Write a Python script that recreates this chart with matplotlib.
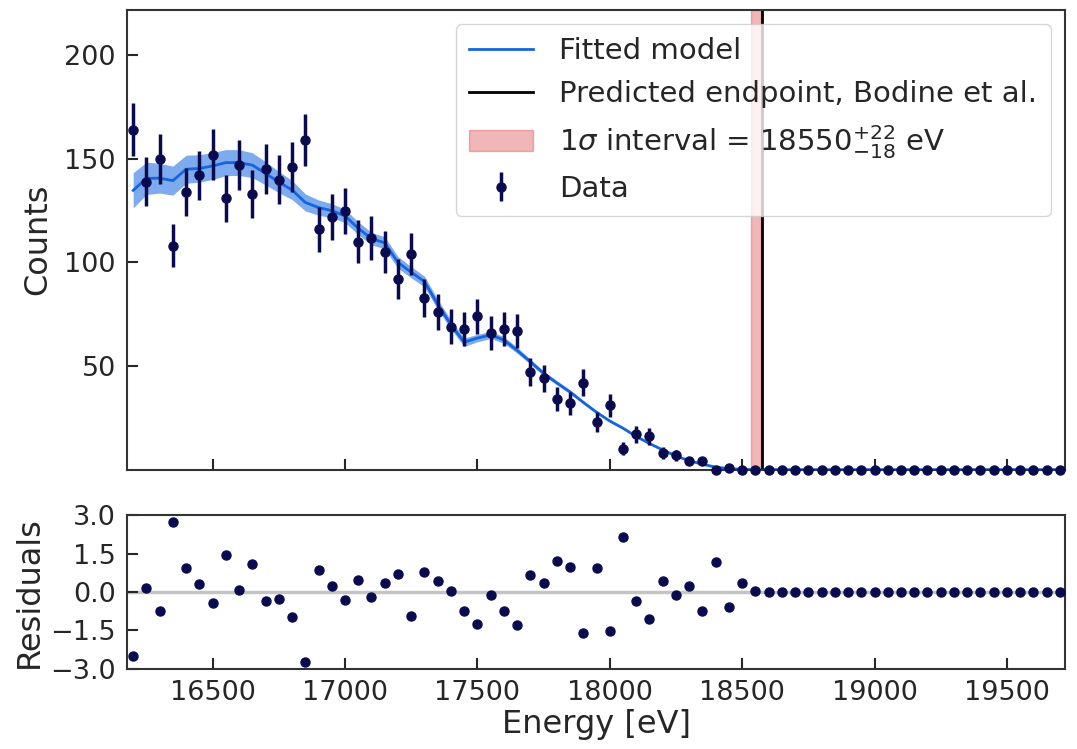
import numpy as np
import matplotlib
matplotlib.use('Agg')
import matplotlib.pyplot as plt

# bin centres (eV)
energy = np.arange(16200, 19750, 50)

counts = [164, 139, 150, 108, 134, 142, 152, 131, 147, 133, 145, 140, 146, 159,
          116, 122, 125, 110, 112, 105, 92, 104, 83, 76, 69, 68, 74, 66, 68, 67,
          47, 44, 34, 32, 42, 23, 31, 10, 17, 16, 8, 7, 4, 4, 0, 1] + [0] * 25

model = [134.8, 140.6, 140.7, 139.5, 145.0, 145.4, 146.6, 148.2, 148.2, 147.0,
         143.0, 138.8, 135.0, 129.0, 126.5, 125.0, 122.5, 116.5, 111.5, 109.5,
         100.0, 95.3, 90.8, 79.8, 70.0, 61.5, 63.5, 65.0, 62.6, 57.6, 52.1, 46.5,
         41.9, 37.5, 32.5, 27.7, 23.5, 20.0, 16.0, 12.6, 9.5, 6.6, 4.3, 2.6, 1.2,
         0.5, 0.12, 0.0] + [0.0] * 23

band_half = [8.5, 7.8, 7.2, 7.0, 6.8, 6.6, 6.5, 6.3, 6.2, 6.0, 5.6, 5.1, 4.6, 4.1,
             3.7, 3.4, 3.2, 3.1, 3.0, 2.9, 2.8, 2.7, 2.6, 2.4, 2.2, 2.0, 1.8, 1.7,
             1.6, 1.4, 1.2, 1.1, 1.0, 0.9, 0.8, 0.7, 0.6, 0.5, 0.4, 0.35, 0.3, 0.25,
             0.2, 0.15, 0.1, 0.05, 0.02, 0.0] + [0.0] * 23

residuals = [-2.48, 0.17, -0.75, 2.72, 0.93, 0.31, -0.43, 1.46, 0.08, 1.09, -0.34,
             -0.27, -0.98, -2.73, 0.85, 0.22, -0.30, 0.48, -0.21, 0.36, 0.72, -0.93,
             0.78, 0.44, 0.03, -0.72, -1.25, -0.10, -0.72, -1.29, 0.67, 0.34, 1.23,
             0.98, -1.59, 0.96, -1.52, 2.17, -0.34, -1.07, 0.43, -0.10, 0.23, -0.75,
             1.19, -0.59, 0.35, 0.05] + [0.0] * 23

endpoint_fit = 18550
err_up, err_down = 22, 18
endpoint_bodine = 18574

counts = np.array(counts, dtype=float)
model = np.array(model)
band_half = np.array(band_half)
residuals = np.array(residuals)

TXT = '#262626'
BLUE = '#1565e0'
NAVY = '#0a0a4f'

fig = plt.figure(figsize=(10.77, 7.49), dpi=100)
ax1 = fig.add_axes([0.118, 0.373, 0.871, 0.614])
ax2 = fig.add_axes([0.118, 0.107, 0.871, 0.205], sharex=ax1)

# ── Main panel ─────────────────────────────────────────────
ax1.fill_between(energy, model - band_half, model + band_half,
                 color=BLUE, alpha=0.55, linewidth=0)
ax1.plot(energy, model, color=BLUE, linewidth=2, label='Fitted model')
ax1.axvline(endpoint_bodine, color='black', linewidth=2,
            label='Predicted endpoint, Bodine et al.')
ax1.axvspan(endpoint_fit - err_down, endpoint_fit + err_up, color='tab:red',
            alpha=0.33,
            label=r'$1\sigma$ interval = $18550^{+22}_{-18}$ eV')
ax1.errorbar(energy, counts, yerr=np.sqrt(counts), fmt='o', color=NAVY,
             markersize=6.5, elinewidth=2.5, capsize=0, label='Data',
             clip_on=False, zorder=5)

ax1.set_xlim(16177, 19720)
ax1.set_ylim(0, 222)
ax1.set_yticks([50, 100, 150, 200])
ax1.set_ylabel('Counts', fontsize=23, color=TXT, labelpad=8)
ax1.tick_params(axis='x', labelbottom=False)
ax1.legend(loc='upper right', fontsize=21, frameon=True, fancybox=True,
           edgecolor='#cccccc', borderaxespad=0.5, handlelength=2.2,
           labelcolor=TXT, borderpad=0.45, labelspacing=0.5,
           handletextpad=0.9)

# ── Residuals ──────────────────────────────────────────────
ax2.axhline(0, color='#c4c4c4', linewidth=2.5, zorder=1)
ax2.plot(energy, residuals, 'o', color=NAVY, markersize=6.5, zorder=3)
ax2.set_ylim(-3, 3)
ax2.set_yticks([-3.0, -1.5, 0.0, 1.5, 3.0])
ax2.set_yticklabels(['−3.0', '−1.5', '0.0', '1.5', '3.0'])
ax2.set_xticks([16500, 17000, 17500, 18000, 18500, 19000, 19500])
ax2.set_ylabel('Residuals', fontsize=23, color=TXT)
ax2.set_xlabel('Energy [eV]', fontsize=23, color=TXT, labelpad=2)

for ax in (ax1, ax2):
    ax.tick_params(direction='in', length=8, width=1.5, labelsize=19.5,
                   colors=TXT, pad=8)
    for s in ax.spines.values():
        s.set_color('#333333')
        s.set_linewidth(1.5)

fig.savefig('out.png', dpi=100, facecolor='white')
